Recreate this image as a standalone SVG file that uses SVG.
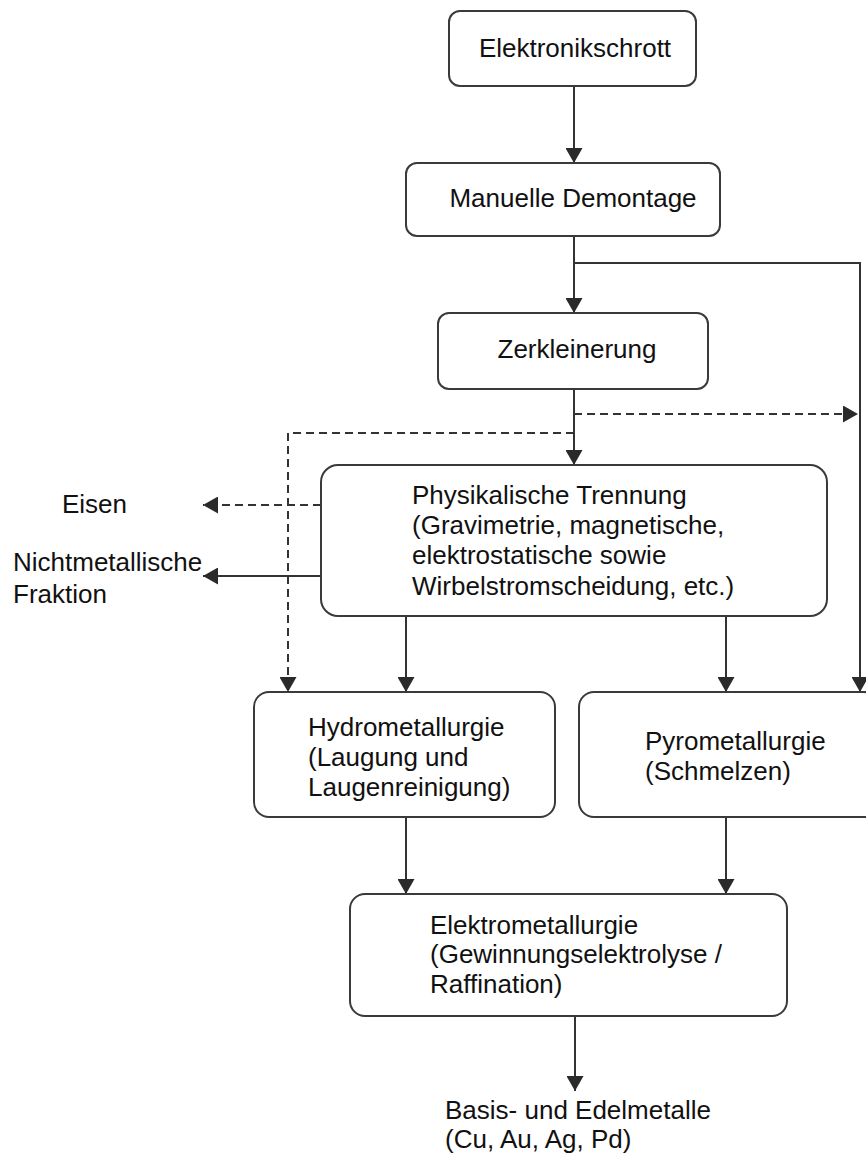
<svg xmlns="http://www.w3.org/2000/svg" width="866" height="1163" viewBox="0 0 866 1163">
  <style>
    .box { fill: #ffffff; stroke: #3a3a3a; stroke-width: 2; }
    .lbl { font-family: "Liberation Sans", Arial, sans-serif; font-size: 26px; fill: #111111; }
    .mid { text-anchor: middle; }
    .flow { fill: none; stroke: #333333; stroke-width: 2; }
    .dash { stroke-dasharray: 8 5; }
  </style>
  <defs>
    <marker id="arrow" markerUnits="userSpaceOnUse" markerWidth="16" markerHeight="17" viewBox="0 0 16 17" refX="15" refY="8.5" orient="auto">
      <path d="M0,0 L15,8.5 L0,17 Z" fill="#2a2a2a"/>
    </marker>
  </defs>
  <rect width="866" height="1163" fill="#ffffff"/>

  <!-- connectors -->
  <g id="connectors">
    <path class="flow" d="M574,86 V163" marker-end="url(#arrow)"/>
    <path class="flow" d="M574,236 V313" marker-end="url(#arrow)"/>
    <path class="flow" d="M574,263 H860 V692" marker-end="url(#arrow)"/>
    <path class="flow" d="M574,389 V465" marker-end="url(#arrow)"/>
    <path class="flow dash" d="M574,414 H858" marker-end="url(#arrow)"/>
    <path class="flow dash" d="M574,433 H288 V692" marker-end="url(#arrow)"/>
    <path class="flow dash" d="M321,505 H203" marker-end="url(#arrow)"/>
    <path class="flow" d="M321,576 H203" marker-end="url(#arrow)"/>
    <path class="flow" d="M406,616 V692" marker-end="url(#arrow)"/>
    <path class="flow" d="M726,616 V692" marker-end="url(#arrow)"/>
    <path class="flow" d="M406,817 V894" marker-end="url(#arrow)"/>
    <path class="flow" d="M726,817 V894" marker-end="url(#arrow)"/>
    <path class="flow" d="M575,1016 V1091" marker-end="url(#arrow)"/>
  </g>

  <g id="elektronikschrott">
    <rect class="box" x="449" y="11" width="247" height="75" rx="11"/>
    <text class="lbl mid" x="575" y="57">Elektronikschrott</text>
  </g>

  <g id="demontage">
    <rect class="box" x="406" y="163" width="314" height="73" rx="11"/>
    <text class="lbl mid" x="573" y="207">Manuelle Demontage</text>
  </g>

  <g id="zerkleinerung">
    <rect class="box" x="438" y="313" width="270" height="76" rx="11"/>
    <text class="lbl mid" x="577" y="358">Zerkleinerung</text>
  </g>

  <g id="trennung">
    <rect class="box" x="321" y="465" width="506" height="151" rx="17"/>
    <text class="lbl" x="412" y="504">Physikalische Trennung</text>
    <text class="lbl" x="412" y="534">(Gravimetrie, magnetische,</text>
    <text class="lbl" x="412" y="564">elektrostatische sowie</text>
    <text class="lbl" x="412" y="595">Wirbelstromscheidung, etc.)</text>
  </g>

  <g id="eisen">
    <text class="lbl" x="62" y="513">Eisen</text>
  </g>

  <g id="nichtmetall">
    <text class="lbl" x="13" y="571">Nichtmetallische</text>
    <text class="lbl" x="13" y="603">Fraktion</text>
  </g>

  <g id="hydro">
    <rect class="box" x="254" y="692" width="301" height="125" rx="15"/>
    <text class="lbl" x="308" y="736">Hydrometallurgie</text>
    <text class="lbl" x="308" y="766">(Laugung und</text>
    <text class="lbl" x="308" y="796">Laugenreinigung)</text>
  </g>

  <g id="pyro">
    <rect class="box" x="579" y="692" width="300" height="125" rx="15"/>
    <text class="lbl" x="645" y="750">Pyrometallurgie</text>
    <text class="lbl" x="645" y="780">(Schmelzen)</text>
  </g>

  <g id="elektro">
    <rect class="box" x="350" y="894" width="437" height="122" rx="15"/>
    <text class="lbl" x="430" y="934">Elektrometallurgie</text>
    <text class="lbl" x="430" y="963">(Gewinnungselektrolyse /</text>
    <text class="lbl" x="430" y="993">Raffination)</text>
  </g>

  <g id="metalle">
    <text class="lbl" x="445" y="1119">Basis- und Edelmetalle</text>
    <text class="lbl" x="445" y="1148">(Cu, Au, Ag, Pd)</text>
  </g>
</svg>
